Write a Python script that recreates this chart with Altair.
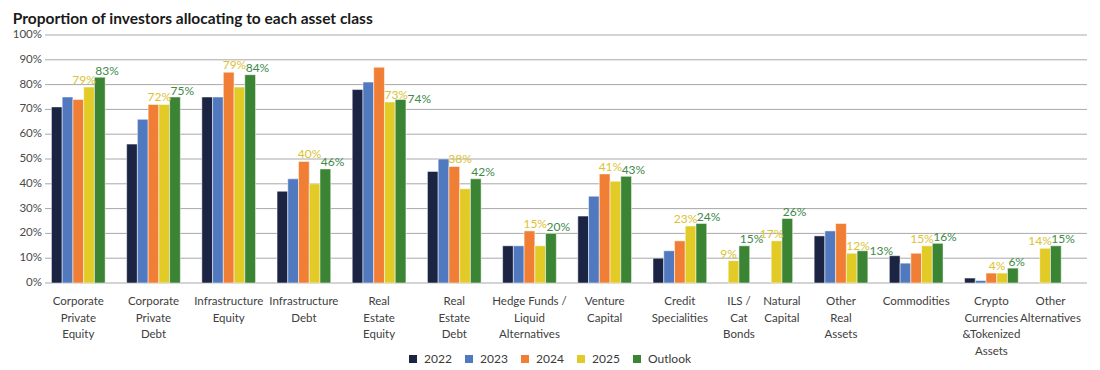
import altair as alt
import pandas as pd

title_text = "Proportion of investors allocating to each asset class"

categories = [
    "Corporate\nPrivate\nEquity",
    "Corporate\nPrivate\nDebt",
    "Infrastructure\nEquity",
    "Infrastructure\nDebt",
    "Real\nEstate\nEquity",
    "Real\nEstate\nDebt",
    "Hedge Funds /\nLiquid\nAlternatives",
    "Venture\nCapital",
    "Credit\nSpecialities",
    "ILS /\nCat\nBonds",
    "Natural\nCapital",
    "Other\nReal\nAssets",
    "Commodities",
    "Crypto\nCurrencies\n&Tokenized\nAssets",
    "Other\nAlternatives",
]
series_names = ["2022", "2023", "2024", "2025", "Outlook"]
v2022 = [71, 56, 75, 37, 78, 45, 15, 27, 10, None, None, 19, 11, 2, None]
v2023 = [75, 66, 75, 42, 81, 50, 15, 35, 13, None, None, 21, 8, 1, None]
v2024 = [74, 72, 85, 49, 87, 47, 21, 44, 17, None, None, 24, 12, 4, None]
v2025 = [79, 72, 79, 40, 73, 38, 15, 41, 23, 9, 17, 12, 15, 4, 14]
vOutlook = [83, 75, 84, 46, 74, 42, 20, 43, 24, 15, 26, 13, 16, 6, 15]
y_ticks = [0, 10, 20, 30, 40, 50, 60, 70, 80, 90, 100]
y_tick_labels = [f"{t}%" for t in y_ticks]

bar_colors = ["#1b2442", "#5079c0", "#f07f35", "#e2cb26", "#3a8434"]
label_yellow = "#dcc232"
label_green = "#3e8a48"
FONT = "Lato"
W, H = 1042, 248

values = dict(zip(series_names, [v2022, v2023, v2024, v2025, vOutlook]))

# build band domain: bars packed per category, two empty slots between categories
bar_rows, domain, cat_rows = [], [], []
for ci, cat in enumerate(categories):
    if ci > 0:
        domain += [f"gap{ci}a", f"gap{ci}b"]
    keys = []
    for s in series_names:
        v = values[s][ci]
        if v is None:
            continue
        k = f"{ci}-{s}"
        domain.append(k)
        keys.append(k)
        bar_rows.append(dict(key=k, series=s, value=v))
    n = len(keys)
    if n % 2:
        cat_rows.append(dict(key=keys[n // 2], label=cat, even=0))
    else:
        cat_rows.append(dict(key=keys[n // 2 - 1], label=cat, even=1))
domain.append("end")

lab_rows = []
for ci in range(len(categories)):
    y, g, o = v2025[ci], vOutlook[ci], v2024[ci]
    tall = o is not None and o - y > 10
    anchor = y if (o is None or tall) else max(y, o)
    lab_rows.append(dict(key=f"{ci}-2025", anchor=anchor, text=f"{y}%",
                         kind="ytall" if tall else "y"))
    lab_rows.append(dict(key=f"{ci}-Outlook", anchor=g, text=f"{g}%",
                         kind="gright" if tall else "g"))

bars_df = pd.DataFrame(bar_rows)
cats_df = pd.DataFrame(cat_rows)
labs_df = pd.DataFrame(lab_rows)
ticks_df = pd.DataFrame({"t": y_ticks, "lab": y_tick_labels})

xscale = alt.Scale(domain=domain, paddingInner=0, paddingOuter=1, align=0.3)
yscale = alt.Scale(domain=[0, 100], nice=False)

def X(**kw):
    return alt.X("key:N", scale=xscale, axis=None, sort=domain, **kw)

grid = alt.Chart(ticks_df).mark_rule(color="#a8a8a8", strokeWidth=1).encode(
    y=alt.Y("t:Q", scale=yscale, axis=None),
    x=alt.value(0), x2=alt.value(W),
)
ylabels = alt.Chart(ticks_df).mark_text(
    font=FONT, fontSize=11.5, color="#4a4a4a", align="right", baseline="middle", dx=-3
).encode(
    y=alt.Y("t:Q", scale=yscale, axis=None),
    x=alt.value(0),
    text="lab:N",
)

bars = alt.Chart(bars_df).mark_bar(stroke="white", strokeWidth=0.5).encode(
    x=X(),
    y=alt.Y("value:Q", scale=yscale, axis=None),
    color=alt.Color("series:N",
                    scale=alt.Scale(domain=series_names, range=bar_colors),
                    legend=alt.Legend(title=None, orient="none", direction="horizontal",
                                      legendX=362, legendY=318, symbolType="square",
                                      symbolSize=64, symbolStrokeWidth=0,
                                      labelFont=FONT, labelFontSize=12,
                                      labelColor="#3a3a3a", labelOffset=5,
                                      columnPadding=11, padding=0)),
)

def value_layer(kind, color, **mk):
    return alt.Chart(labs_df).transform_filter(alt.datum.kind == kind).mark_text(
        font=FONT, fontSize=12, color=color, baseline="alphabetic", **mk
    ).encode(
        x=X(),
        y=alt.Y("anchor:Q", scale=yscale, axis=None),
        text="text:N",
    )

lab_y = value_layer("y", label_yellow, align="center", dx=-5, dy=-3)
lab_yt = value_layer("ytall", label_yellow, align="left", dx=-5.4, dy=-3)
lab_g = value_layer("g", label_green, align="left", dx=-4.5, dy=-2.5)
lab_gr = value_layer("gright", label_green, align="left", dx=7, dy=4)

def cat_layer(even):
    return alt.Chart(cats_df).transform_filter(alt.datum.even == even).mark_text(
        font=FONT, fontSize=11.5, color="#404040", baseline="top", align="center",
        lineBreak="\n", lineHeight=16.5, dy=13,
    ).encode(
        x=X(bandPosition=1 if even else 0.5),
        y=alt.YDatum(0, scale=yscale, axis=None),
        text="label:N",
    )

chart = alt.layer(
    grid, ylabels, bars, lab_y, lab_yt, lab_g, lab_gr, cat_layer(0), cat_layer(1)
).properties(
    width=W, height=H,
    padding={"left": 4, "top": 3, "right": 0, "bottom": 0},
    title=alt.TitleParams(title_text, anchor="start", frame="bounds", font=FONT,
                          fontSize=15.5, fontWeight="bold", color="#1a1a1a", offset=2),
).configure_view(stroke=None)

chart.save("out.html", embed_options={"renderer": "svg", "actions": False})
